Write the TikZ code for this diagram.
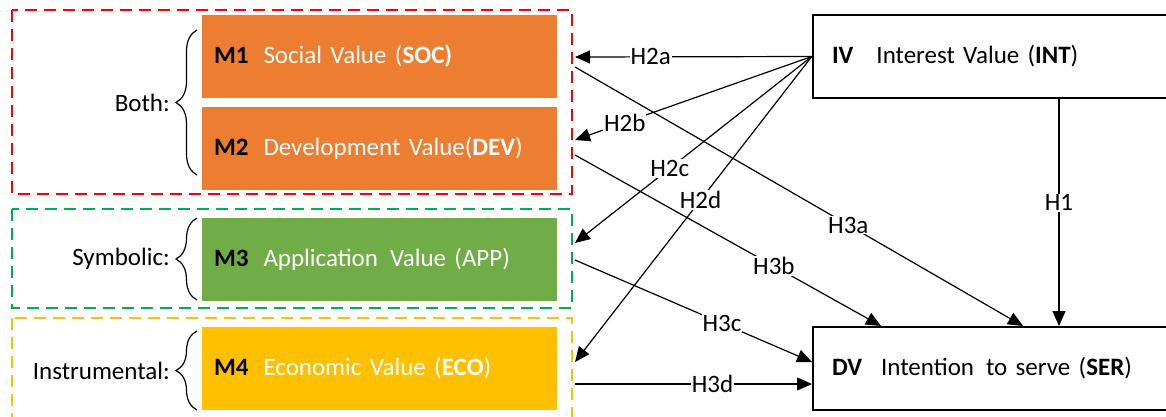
\documentclass[tikz,border=0pt]{standalone}
\usepackage{fontspec}
\setmainfont{Carlito}
\usetikzlibrary{arrows.meta,decorations.pathreplacing}
\definecolor{bothred}{RGB}{255,0,0}
\definecolor{symgreen}{RGB}{0,176,80}
\definecolor{insgold}{RGB}{255,192,0}
\definecolor{valorange}{RGB}{237,125,49}
\definecolor{valgreen}{RGB}{112,173,71}
\definecolor{valgold}{RGB}{255,192,0}
\tikzset{
  bigfont/.style={font=\fontsize{25}{30}\selectfont},
  valbox/.style={bigfont, minimum width=355pt, minimum height=83pt, text width=331pt,
    inner xsep=12pt, align=left, text=white},
  varbox/.style={bigfont, draw, line width=2.5pt, minimum height=83pt, text width=329pt,
    inner xsep=19pt, align=left},
  groupbox/.style={line width=2.5pt, dash pattern=on 12pt off 7pt},
  hyp/.style={-{Triangle[length=15pt,width=13pt]}, line width=1.2pt},
  hyplab/.style={bigfont, fill=white, inner sep=1pt},
  grouplab/.style={bigfont, anchor=east, inner sep=0pt},
  bracket/.style={decorate, decoration={brace, amplitude=21pt}, line width=1.2pt}
}
\newcommand{\mlab}[1]{\textcolor{black}{\bfseries #1}}
\begin{document}
\begin{tikzpicture}[x=1pt, y=-1pt]
\useasboundingbox (0,0) rectangle (1166,416);

\draw[groupbox, bothred] (12,10) rectangle (572,194);
\draw[groupbox, symgreen] (12,209) rectangle (572,308);
\draw[groupbox, insgold] (12,318) rectangle (572,440);

\node[valbox, fill=valorange] (soc) at (379.5,56.5) {\mlab{M1}\hspace{15pt}Social Value (\textbf{SOC)}};
\node[valbox, fill=valorange] (dev) at (379.5,148) {\mlab{M2}\hspace{15pt}Development Value(\textbf{DEV})};
\node[valbox, fill=valgreen] (app) at (379.5,259.5) {\mlab{M3}\hspace{15pt}Application\hspace{12pt}Value (APP)};
\node[valbox, fill=valgold] (eco) at (379.5,368.5) {\mlab{M4}\hspace{15pt}Economic Value (\textbf{ECO})};

\node[varbox] (int) at (996.5,56.5) {\textbf{IV}\hspace{23pt}Interest Value (\textbf{INT})};
\node[varbox] (ser) at (996.5,368.5) {\textbf{DV}\hspace{19pt}Intention\hspace{12pt}to serve (\textbf{SER})};

\coordinate (bothtop) at (197,30);
\coordinate (bothbot) at (197,175);
\coordinate (symtop) at (197,218);
\coordinate (symbot) at (197,300);
\coordinate (instop) at (197,331);
\coordinate (insbot) at (197,410);
\draw[bracket] (bothbot) -- (bothtop);
\draw[bracket] (symbot) -- (symtop);
\draw[bracket] (insbot) -- (instop);
\node[grouplab] (both) at (170,102.5) {Both:};
\node[grouplab] (sym) at (170,259) {Symbolic:};
\node[grouplab] (ins) at (170,370.5) {Instrumental:};

\coordinate (socin) at (575,57);
\coordinate (socout) at (575,67);
\coordinate (devin) at (575,140);
\coordinate (devout) at (575,155);
\coordinate (appin) at (575,243);
\coordinate (appout) at (575,260);
\coordinate (ecoin) at (575,362);
\coordinate (ecoout) at (575,384);
\coordinate (intdown) at (1059,98);
\coordinate (serh) at (1059,326);
\coordinate (sera) at (1023,326);
\coordinate (serb) at (881,326);
\coordinate (serc) at (812,362);
\coordinate (serd) at (812,384);

\draw[hyp] (int.west) -- (socin) node[hyplab, pos=0.68] {H2a};
\draw[hyp] (int.west) -- (devin) node[hyplab, pos=0.79] {H2b};
\draw[hyp] (int.west) -- (appin) node[hyplab, pos=0.6] {H2c};
\draw[hyp] (int.west) -- (ecoin) node[hyplab, pos=0.47] {H2d};
\draw[hyp] (socout) -- (sera) node[hyplab, pos=0.61] {H3a};
\draw[hyp] (devout) -- (serb) node[hyplab, pos=0.65] {H3b};
\draw[hyp] (appout) -- (serc) node[hyplab, pos=0.62] {H3c};
\draw[hyp] (ecoout) -- (serd) node[hyplab, pos=0.58] {H3d};
\draw[hyp] (intdown) -- (serh) node[hyplab, pos=0.46] {H1};
\end{tikzpicture}
\end{document}
